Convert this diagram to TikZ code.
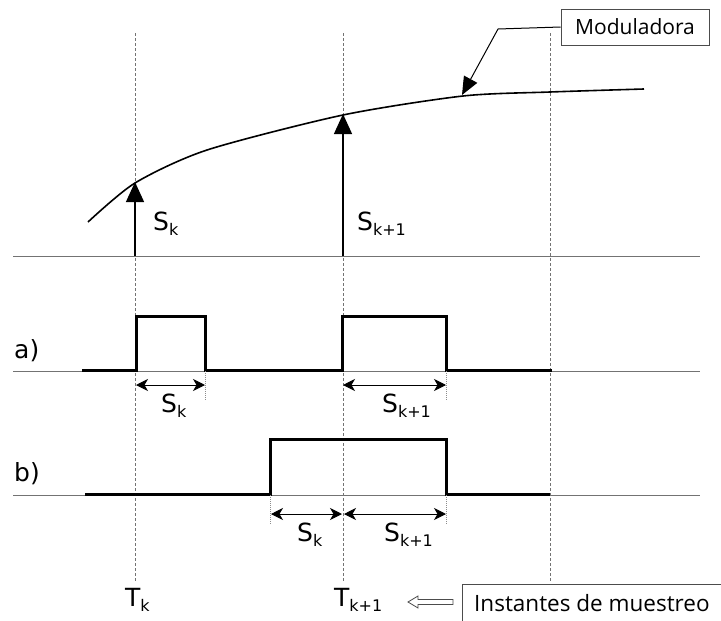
\documentclass[tikz,border=0pt]{standalone}
\usepackage{fontspec}
\setmainfont{DejaVu Sans}
\newfontfamily\boxfont{Open Sans}
\usetikzlibrary{arrows.meta}
\newcommand{\lsub}[1]{\raisebox{-5pt}{\fontsize{16}{16}\selectfont #1}}
\begin{document}
\begin{tikzpicture}[x=1pt,y=-1pt,
  baseline/.style={draw=black!55,line width=1pt},
  guide/.style={draw=black!55,line width=0.9pt,dash pattern=on 3pt off 2pt},
  tick/.style={draw=black!45,line width=0.8pt,dash pattern=on 1pt off 1pt},
  pulse/.style={draw=black,line width=3pt,line join=miter},
  sample/.style={draw=black,line width=1.3pt,-{Triangle[width=18pt,length=20pt]}},
  dim/.style={draw=black,line width=0.9pt,{Stealth[length=12pt,width=12pt,inset=3.5pt]}-{Stealth[length=12pt,width=12pt,inset=3.5pt]}},
  lbl/.style={inner sep=0pt,anchor=base west,font=\fontsize{25}{27}\selectfont},
  tagbox/.style={draw=black!70,line width=0.9pt,fill=white,inner sep=0pt},
  tagtext/.style={inner sep=0pt}
]
\useasboundingbox (0,0) rectangle (721,621);
\clip (0,0) rectangle (721,621);
% guides
\coordinate (g1t) at (135,33); \coordinate (g1b) at (135,582);
\coordinate (g2t) at (343,33); \coordinate (g2b) at (343,582);
\coordinate (g3t) at (550,33); \coordinate (g3b) at (550,582);
\draw[guide] (g1t) -- (g1b);
\draw[guide] (g2t) -- (g2b);
\draw[guide] (g3t) -- (g3b);
% baselines
\coordinate (b0l) at (13,256); \coordinate (b0r) at (700,256);
\coordinate (bal) at (13,371); \coordinate (bar) at (700,371);
\coordinate (bbl) at (13,495); \coordinate (bbr) at (700,495);
\draw[baseline] (b0l) -- (b0r);
\draw[baseline] (bal) -- (bar);
\draw[baseline] (bbl) -- (bbr);
% modulating curve
\draw[black,line width=1.6pt] plot[smooth,tension=0.45] coordinates {(88,222) (135,183) (207,150) (343,115) (463,96) (550,92) (644,89)};
% samples
\coordinate (s1b) at (135,256); \coordinate (s1t) at (135,182);
\coordinate (s2b) at (343,256); \coordinate (s2t) at (343,114);
\draw[sample] (s1b) -- (s1t);
\draw[sample] (s2b) -- (s2t);
\node[lbl] (lsk) at (153,230) {S\lsub{k}};
\node[lbl] (lsk1) at (357,230) {S\lsub{k+1}};
% Moduladora
\node[tagbox,minimum width=148pt,minimum height=36pt] (mod) at (635,27) {};
\node[tagtext,font=\boxfont\fontsize{21}{23}\selectfont] (modt) at (mod.center) {Moduladora};
\coordinate (mk) at (498,29);
\coordinate (mtip) at (462,95);
\draw[black,line width=1pt,-{Triangle[width=15pt,length=18pt]}] (mod.west) -- (mk) -- (mtip);
% a) PAM
\node[lbl] (la) at (14,358) {a)};
\draw[pulse] (82,370) -- (136,370) -- (136,316) -- (205,316) -- (205,370) -- (342,370) -- (342,316) -- (446,316) -- (446,370) -- (552,370);
\coordinate (ta1t) at (205,371); \coordinate (ta1b) at (205,400);
\coordinate (ta2t) at (446,371); \coordinate (ta2b) at (446,400);
\draw[tick] (ta1t) -- (ta1b);
\draw[tick] (ta2t) -- (ta2b);
\coordinate (da1l) at (136,385); \coordinate (da1r) at (205,385);
\coordinate (da2l) at (343,385); \coordinate (da2r) at (446,385);
\draw[dim] (da1l) -- (da1r);
\draw[dim] (da2l) -- (da2r);
\node[lbl] (lask) at (161,412) {S\lsub{k}};
\node[lbl] (lask1) at (382,412) {S\lsub{k+1}};
% b) PAM
\node[lbl] (lb) at (14,481) {b)};
\draw[pulse] (85,494) -- (270,494) -- (270,439) -- (446,439) -- (446,494) -- (550,494);
\coordinate (tb1t) at (270,495); \coordinate (tb1b) at (270,524);
\coordinate (tb2t) at (446,495); \coordinate (tb2b) at (446,524);
\draw[tick] (tb1t) -- (tb1b);
\draw[tick] (tb2t) -- (tb2b);
\coordinate (db1l) at (271,514); \coordinate (db1r) at (342,514);
\coordinate (db2l) at (344,514); \coordinate (db2r) at (446,514);
\draw[dim] (db1l) -- (db1r);
\draw[dim] (db2l) -- (db2r);
\node[lbl] (lbsk) at (297,541) {S\lsub{k}};
\node[lbl] (lbsk1) at (384,541) {S\lsub{k+1}};
% T labels
\node[lbl] (ltk) at (125,606) {T\lsub{k}};
\node[lbl] (ltk1) at (334,606) {T\lsub{k+1}};
% Instantes de muestreo
\node[tagbox,anchor=north west,minimum width=280pt,minimum height=50pt] (inst) at (462,584) {};
\node[tagtext,anchor=west,font=\boxfont\fontsize{22.5}{24}\selectfont] (instt) at (474,603) {Instantes de muestreo};
\draw[black!70,line width=0.8pt,fill=white] (408,602) -- (418,596) -- (418,599.5) -- (453,599.5) -- (453,604.5) -- (418,604.5) -- (418,608) -- cycle;
\end{tikzpicture}
\end{document}
